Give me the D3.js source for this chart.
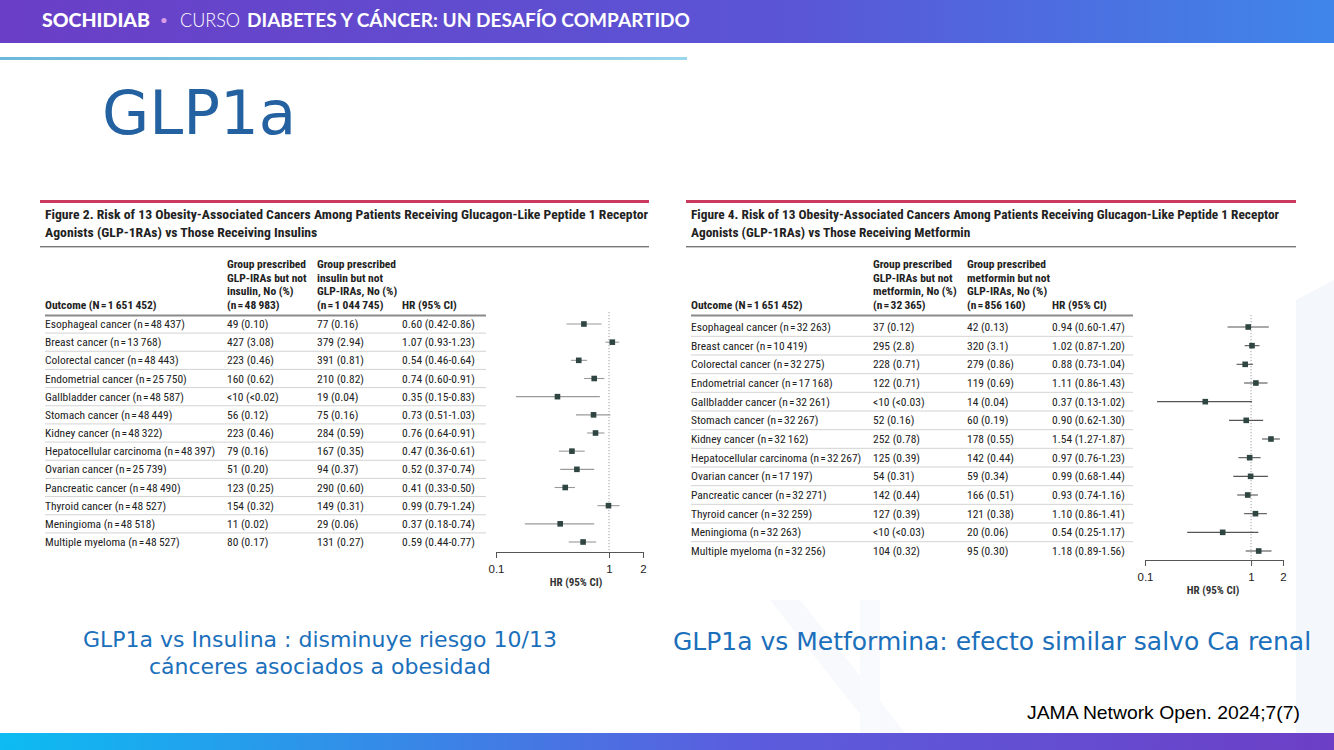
<!DOCTYPE html>
<html>
<head>
<meta charset="utf-8">
<script src="https://cdn.jsdelivr.net/npm/d3@7"></script>
<style>
  body { margin: 0; background: #fff; }
  svg { display: block; }
  .tbl { font-family: "Liberation Sans Narrow", "Roboto Condensed", "Liberation Sans", sans-serif; fill: #222; }
</style>
</head>
<body>
<div id="slide"></div>
<script>
const W = 1334, H = 750;
const n = s => "n\u200a=\u200a" + s;

// ---- data: figure 2 (GLP-1RA vs insulin)
const outcomesIns = ["Esophageal cancer", "Breast cancer", "Colorectal cancer", "Endometrial cancer", "Gallbladder cancer",
  "Stomach cancer", "Kidney cancer", "Hepatocellular carcinoma", "Ovarian cancer", "Pancreatic cancer",
  "Thyroid cancer", "Meningioma", "Multiple myeloma"];
const nIns = ["48\u2009437", "13\u2009768", "48\u2009443", "25\u2009750", "48\u2009587", "48\u2009449", "48\u2009322",
  "48\u2009397", "25\u2009739", "48\u2009490", "48\u2009527", "48\u2009518", "48\u2009527"];
const glpIns = ["49 (0.10)", "427 (3.08)", "223 (0.46)", "160 (0.62)", "<10 (<0.02)", "56 (0.12)", "223 (0.46)",
  "79 (0.16)", "51 (0.20)", "123 (0.25)", "154 (0.32)", "11 (0.02)", "80 (0.17)"];
const insOnly = ["77 (0.16)", "379 (2.94)", "391 (0.81)", "210 (0.82)", "19 (0.04)", "75 (0.16)", "284 (0.59)",
  "167 (0.35)", "94 (0.37)", "290 (0.60)", "149 (0.31)", "29 (0.06)", "131 (0.27)"];
const hrIns = [0.60, 1.07, 0.54, 0.74, 0.35, 0.73, 0.76, 0.47, 0.52, 0.41, 0.99, 0.37, 0.59];
const loIns = [0.42, 0.93, 0.46, 0.60, 0.15, 0.51, 0.64, 0.36, 0.37, 0.33, 0.79, 0.18, 0.44];
const hiIns = [0.86, 1.23, 0.64, 0.91, 0.83, 1.03, 0.91, 0.61, 0.74, 0.50, 1.24, 0.74, 0.77];

// ---- data: figure 4 (GLP-1RA vs metformin)
const outcomesMet = outcomesIns;
const nMet = ["32\u2009263", "10\u2009419", "32\u2009275", "17\u2009168", "32\u2009261", "32\u2009267", "32\u2009162",
  "32\u2009267", "17\u2009197", "32\u2009271", "32\u2009259", "32\u2009263", "32\u2009256"];
const glpMet = ["37 (0.12)", "295 (2.8)", "228 (0.71)", "122 (0.71)", "<10 (<0.03)", "52 (0.16)", "252 (0.78)",
  "125 (0.39)", "54 (0.31)", "142 (0.44)", "127 (0.39)", "<10 (<0.03)", "104 (0.32)"];
const metOnly = ["42 (0.13)", "320 (3.1)", "279 (0.86)", "119 (0.69)", "14 (0.04)", "60 (0.19)", "178 (0.55)",
  "142 (0.44)", "59 (0.34)", "166 (0.51)", "121 (0.38)", "20 (0.06)", "95 (0.30)"];
const hrMet = [0.94, 1.02, 0.88, 1.11, 0.37, 0.90, 1.54, 0.97, 0.99, 0.93, 1.10, 0.54, 1.18];
const loMet = [0.60, 0.87, 0.73, 0.86, 0.13, 0.62, 1.27, 0.76, 0.68, 0.74, 0.86, 0.25, 0.89];
const hiMet = [1.47, 1.20, 1.04, 1.43, 1.02, 1.30, 1.87, 1.23, 1.44, 1.16, 1.41, 1.17, 1.56];

const majorTicks = [0.1, 1, 2];
const minorTicks = [0.2, 0.3, 0.4, 0.5, 0.6, 0.7, 0.8, 0.9];

const svg = d3.select("#slide").append("svg").attr("width", W).attr("height", H);
const defs = svg.append("defs");

function grad(id, stops) {
  const g = defs.append("linearGradient").attr("id", id).attr("x1", "0%").attr("x2", "100%");
  stops.forEach(s => g.append("stop").attr("offset", s[0]).attr("stop-color", s[1]));
}
grad("topbar", [["0%", "#6a3ec6"], ["60%", "#5a56d6"], ["100%", "#3f86ea"]]);
grad("botbar", [["0%", "#0cbcf2"], ["55%", "#5a5ede"], ["100%", "#6c3fc6"]]);
grad("thin", [["0%", "#6cb8dc"], ["100%", "#9ad6ec"]]);

// faint background shapes
svg.append("polygon").attr("points", "1296,300 1334,280 1334,733 1296,733").attr("fill", "#f4f7fb");
svg.append("polygon").attr("points", "770,600 800,600 905,733 875,733").attr("fill", "#f8f9fc");
svg.append("polygon").attr("points", "860,600 880,600 880,733 860,733").attr("fill", "#f9fafd");

// header
svg.append("rect").attr("width", W).attr("height", 43).attr("fill", "url(#topbar)");
const headFont = "Lato, 'Open Sans', sans-serif";
function headText(x, txt, weight, len, fill) {
  svg.append("text").attr("x", x).attr("y", 27).text(txt)
    .style("font-family", headFont).style("font-size", "19px").style("font-weight", weight)
    .attr("fill", fill || "#fff").attr("textLength", len).attr("lengthAdjust", "spacingAndGlyphs");
}
headText(42, "SOCHIDIAB", 900, 108);
svg.append("circle").attr("cx", 164).attr("cy", 20.5).attr("r", 2.6).attr("fill", "#d99ae6");
headText(180, "CURSO", 300, 60);
headText(247, "DIABETES Y CÁNCER: UN DESAFÍO COMPARTIDO", 700, 443);

svg.append("rect").attr("x", 0).attr("y", 57).attr("width", 687).attr("height", 3).attr("fill", "url(#thin)");

svg.append("text").attr("x", 102).attr("y", 134).text("GLP1a")
  .style("font-family", "'DejaVu Sans', sans-serif").style("font-size", "61px").attr("fill", "#2361a1");

// bottom bar
svg.append("rect").attr("x", 0).attr("y", 733).attr("width", W).attr("height", 17).attr("fill", "url(#botbar)");

function figure(cfg) {
  const g = svg.append("g").attr("class", "tbl");
  const x0 = cfg.x0;
  g.append("rect").attr("x", x0 - 5).attr("y", 200).attr("width", cfg.right - x0 + 5).attr("height", 3).attr("fill", "#c93a5e");
  const t1 = g.append("text").attr("x", x0).attr("y", 219).style("font-weight", 700).style("font-size", "12.5px")
    .text(`Figure ${cfg.num}. Risk of 13 Obesity-Associated Cancers Among Patients Receiving Glucagon-Like Peptide 1 Receptor`);
  const t2 = g.append("text").attr("x", x0).attr("y", 237).style("font-weight", 700).style("font-size", "12.5px")
    .text(`Agonists (GLP-1RAs) vs Those Receiving ${cfg.comp}`);
  const k = cfg.titleLen / t1.node().getComputedTextLength();
  t1.attr("textLength", cfg.titleLen).attr("lengthAdjust", "spacingAndGlyphs");
  t2.attr("textLength", t2.node().getComputedTextLength() * k).attr("lengthAdjust", "spacingAndGlyphs");
  g.append("rect").attr("x", x0 - 5).attr("y", 246).attr("width", cfg.right - x0 + 5).attr("height", 1.4).attr("fill", "#777");

  // column headers
  const hdr = (x, lines) => lines.forEach((l, i) => {
    g.append("text").attr("x", x).attr("y", 309 - (lines.length - 1 - i) * 13.6).text(l)
      .style("font-weight", 700).style("font-size", "11.5px");
  });
  hdr(x0, ["Outcome (N\u200a=\u200a1\u2009651\u2009452)"]);
  hdr(cfg.cols[0], cfg.h1);
  hdr(cfg.cols[1], cfg.h2);
  hdr(cfg.cols[2], ["HR (95% CI)"]);
  g.append("rect").attr("x", x0).attr("y", 314.5).attr("width", cfg.tblRight - x0).attr("height", 2).attr("fill", "#8a8a8a");

  const y = d3.scalePoint().domain(d3.range(13)).range([cfg.row0, cfg.row1]);
  const step = y.step();

  // row separators
  g.selectAll(".sep").data(d3.range(12)).join("line")
    .attr("x1", x0).attr("x2", cfg.tblRight)
    .attr("y1", d => y(d) + step / 2).attr("y2", d => y(d) + step / 2)
    .attr("stroke", "#c8c8c8").attr("stroke-width", 0.8);

  const rows = g.selectAll(".row").data(d3.range(13)).join("g")
    .attr("transform", d => `translate(0,${y(d) + 4})`).style("font-size", "11.5px");
  rows.append("text").attr("x", x0).text(d => `${cfg.outcomes[d]} (${n(cfg.n[d])})`);
  rows.append("text").attr("x", cfg.cols[0]).text(d => cfg.a[d]);
  rows.append("text").attr("x", cfg.cols[1]).text(d => cfg.b[d]);
  rows.append("text").attr("x", cfg.cols[2])
    .text(d => `${cfg.hr[d].toFixed(2)} (${cfg.lo[d].toFixed(2)}-${cfg.hi[d].toFixed(2)})`);

  // forest plot
  const x = d3.scaleLog().domain([0.1, 2]).range(cfg.xr);
  g.append("line").attr("x1", x(1)).attr("x2", x(1)).attr("y1", cfg.row0 - 12).attr("y2", cfg.axisY)
    .attr("stroke", "#888").attr("stroke-width", 0.8).attr("stroke-dasharray", "1.2,1.8");
  g.selectAll(".ci").data(d3.range(13)).join("line")
    .attr("x1", d => x(cfg.lo[d])).attr("x2", d => x(cfg.hi[d]))
    .attr("y1", d => y(d)).attr("y2", d => y(d))
    .attr("stroke", cfg.ciColor).attr("stroke-width", 1.1);
  g.selectAll(".pt").data(d3.range(13)).join("rect")
    .attr("x", d => x(cfg.hr[d]) - 2.8).attr("y", d => y(d) - 2.8)
    .attr("width", 5.6).attr("height", 5.6).attr("fill", "#2f4542");

  const ax = g.append("g").attr("transform", `translate(0,${cfg.axisY})`);
  ax.call(d3.axisBottom(x).tickValues(minorTicks).tickSize(3).tickSizeOuter(0).tickFormat(""));
  ax.call(d3.axisBottom(x).tickValues(majorTicks).tickSize(6).tickSizeOuter(0).tickFormat(d3.format("")));
  ax.selectAll("path, line").attr("stroke", "#555");
  ax.selectAll("text").attr("fill", "#222").style("font-family", "inherit").style("font-size", "11.5px").attr("dy", "1em");
  g.append("text").attr("x", cfg.labelX).attr("y", cfg.axisY + 34).attr("text-anchor", "middle")
    .style("font-size", "11px").style("font-weight", 700).attr("fill", "#333").text("HR (95% CI)");
}

figure({
  num: 2, comp: "Insulins", x0: 45, right: 649, tblRight: 486, titleLen: 603,
  cols: [227, 317, 402],
  h1: ["Group prescribed", "GLP-IRAs but not", "insulin, No (%)", "(n\u200a=\u200a48\u2009983)"],
  h2: ["Group prescribed", "insulin but not", "GLP-IRAs, No (%)", "(n\u200a=\u200a1\u2009044\u2009745)"],
  outcomes: outcomesIns, n: nIns, a: glpIns, b: insOnly, hr: hrIns, lo: loIns, hi: hiIns,
  row0: 324, row1: 542, xr: [496, 643], axisY: 552, labelX: 576, ciColor: "#9a9a9a"
});

figure({
  num: 4, comp: "Metformin", x0: 691, right: 1296, tblRight: 1133, titleLen: 588,
  cols: [873, 967, 1052],
  h1: ["Group prescribed", "GLP-IRAs but not", "metformin, No (%)", "(n\u200a=\u200a32\u2009365)"],
  h2: ["Group prescribed", "metformin but not", "GLP-IRAs, No (%)", "(n\u200a=\u200a856\u2009160)"],
  outcomes: outcomesMet, n: nMet, a: glpMet, b: metOnly, hr: hrMet, lo: loMet, hi: hiMet,
  row0: 327, row1: 551, xr: [1145, 1283], axisY: 560, labelX: 1213, ciColor: "#555"
});

// captions
function caption(x, yy, txt, size) {
  return svg.append("text").attr("x", x).attr("y", yy).attr("text-anchor", "middle").text(txt)
    .style("font-size", size + "px").style("font-family", "'DejaVu Sans', sans-serif").attr("fill", "#1b6fbb");
}
caption(320, 647, "GLP1a vs Insulina : disminuye riesgo 10/13", 22);
caption(320, 674, "cánceres asociados a obesidad", 22);
caption(992, 650, "GLP1a vs Metformina: efecto similar salvo Ca renal", 25);

svg.append("text").attr("x", 1300).attr("y", 719).attr("text-anchor", "end")
  .style("font-family", "'Liberation Sans Narrow', 'Liberation Sans', Arial, sans-serif").style("font-size", "19px").attr("fill", "#000")
  .attr("textLength", 273).attr("lengthAdjust", "spacingAndGlyphs")
  .text("JAMA Network Open. 2024;7(7)");
</script>
</body>
</html>
